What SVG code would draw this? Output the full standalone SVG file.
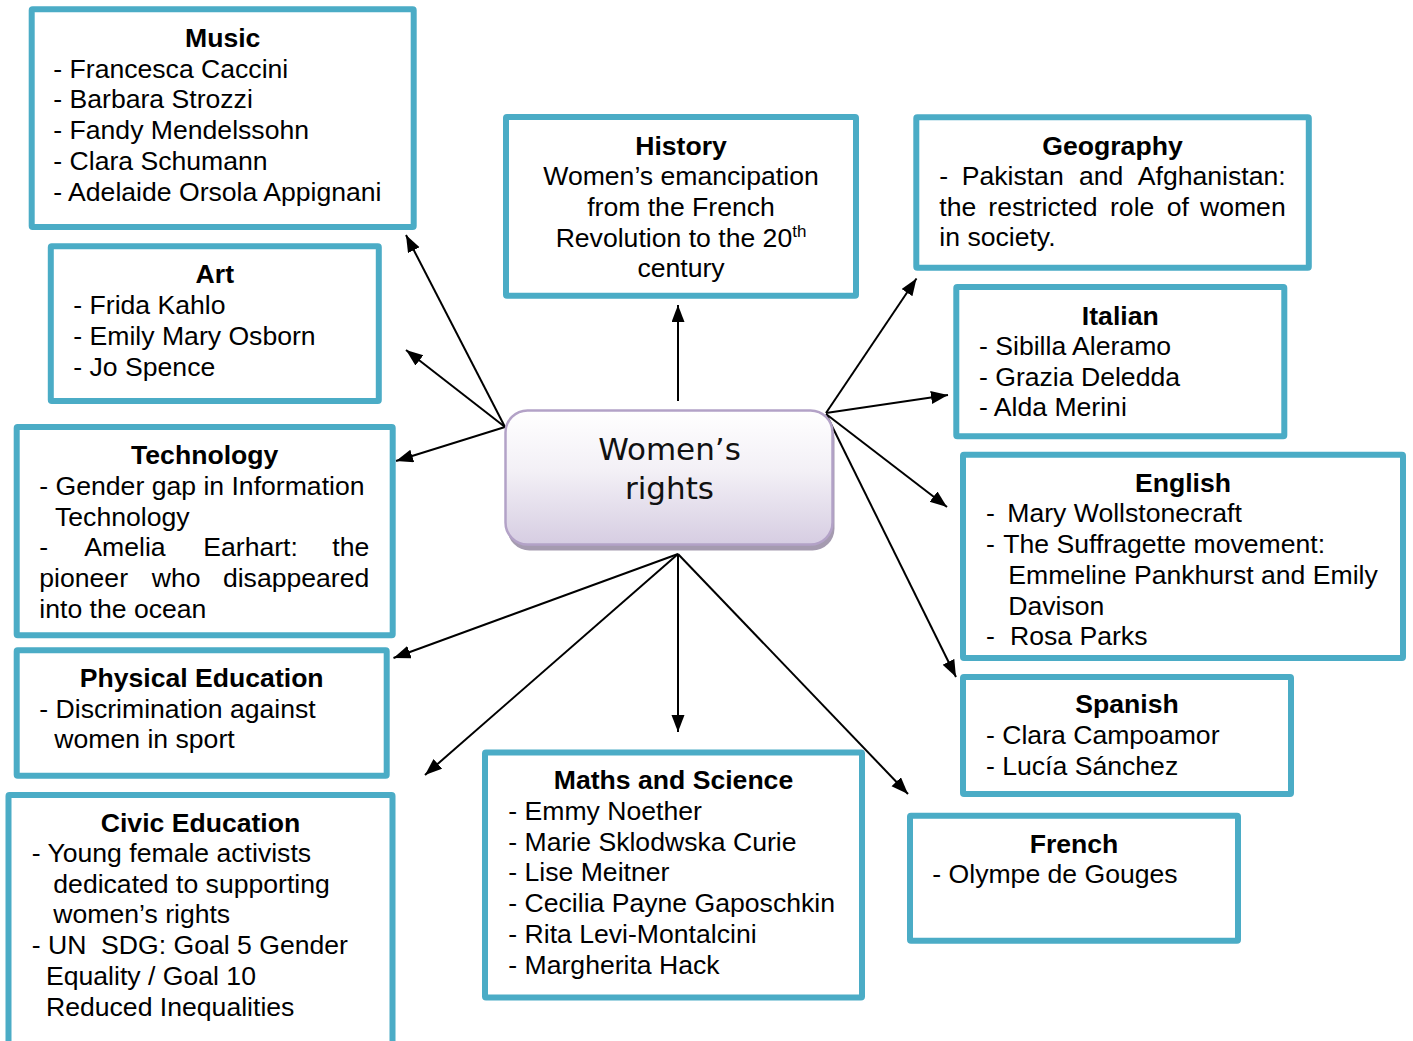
<svg xmlns="http://www.w3.org/2000/svg" width="1413" height="1041" viewBox="0 0 1413 1041">
  <style>
    .box { fill: #ffffff; stroke: #4bacc6; stroke-width: 6; }
    .t { font-family: "Liberation Sans", Arial, sans-serif; font-size: 26.6px; fill: #000000; }
    .h { font-weight: bold; text-anchor: middle; }
    .e { text-anchor: end; }
    .pre { white-space: pre; }
    .conn line { stroke: #000000; stroke-width: 2; marker-end: url(#arrow); }
    .hub { font-family: "DejaVu Sans", Verdana, sans-serif; font-size: 31px; fill: #111111; text-anchor: middle; }
  </style>
  <defs>
    <marker id="arrow" markerUnits="userSpaceOnUse" markerWidth="18" markerHeight="14" refX="17" refY="6.5" orient="auto">
      <path d="M0,0 L17,6.5 L0,13 Z" fill="#000000"/>
    </marker>
    <linearGradient id="hubFill" x1="0" y1="0" x2="0" y2="1">
      <stop offset="0" stop-color="#ffffff"/>
      <stop offset="0.45" stop-color="#f3f0f6"/>
      <stop offset="1" stop-color="#d6cde2"/>
    </linearGradient>
  </defs>

  <!-- connectors from the central topic -->
  <g id="connectors" class="conn">
    <line x1="505" y1="427" x2="406" y2="235"/>
    <line x1="505" y1="427" x2="406" y2="350"/>
    <line x1="505" y1="427" x2="396" y2="461"/>
    <line x1="678" y1="401" x2="678" y2="305"/>
    <line x1="826" y1="413" x2="916.5" y2="278.5"/>
    <line x1="826" y1="413" x2="948" y2="395"/>
    <line x1="826" y1="414" x2="947" y2="507"/>
    <line x1="827" y1="416" x2="956" y2="677"/>
    <line x1="678" y1="554" x2="393.5" y2="658"/>
    <line x1="678" y1="554" x2="425" y2="775"/>
    <line x1="678" y1="554" x2="678" y2="732"/>
    <line x1="678" y1="554" x2="908" y2="794"/>
  </g>

  <!-- central topic -->
  <g id="womens-rights">
    <rect x="507.5" y="416.5" width="327" height="134" rx="22" fill="#a59bb0"/>
    <rect x="505.5" y="410.5" width="327" height="134" rx="22" fill="url(#hubFill)" stroke="#b3a2c7" stroke-width="2.5"/>
    <text class="hub" x="669.5" y="460">Women’s</text>
    <text class="hub" x="669.5" y="498.5">rights</text>
  </g>

  <g id="music">
    <rect class="box" x="31.7" y="9.3" width="382" height="217.7" rx="1"/>
    <text class="t h" x="222.7" y="47">Music</text>
    <text class="t" x="53.3" y="77.7">- Francesca Caccini</text>
    <text class="t" x="53.3" y="108.4">- Barbara Strozzi</text>
    <text class="t" x="53.3" y="139.1">- Fandy Mendelssohn</text>
    <text class="t" x="53.3" y="169.8">- Clara Schumann</text>
    <text class="t" x="53.3" y="200.5">- Adelaide Orsola Appignani</text>
  </g>

  <g id="art">
    <rect class="box" x="50.8" y="246.3" width="328" height="154.7" rx="1"/>
    <text class="t h" x="214.8" y="283.3">Art</text>
    <text class="t" x="73.3" y="314.2">- Frida Kahlo</text>
    <text class="t" x="73.3" y="344.9">- Emily Mary Osborn</text>
    <text class="t" x="73.3" y="375.6">- Jo Spence</text>
  </g>

  <g id="technology">
    <rect class="box" x="16.7" y="427" width="376" height="208.3" rx="1"/>
    <text class="t h" x="204.7" y="464.3">Technology</text>
    <text class="t" x="39.3" y="494.8">- Gender gap in Information</text>
    <text class="t" x="55" y="525.5">Technology</text>
    <text class="t" x="39.3" y="556.2">-</text>
    <text class="t" x="84.3" y="556.2">Amelia</text>
    <text class="t" x="203.3" y="556.2">Earhart:</text>
    <text class="t e" x="369.3" y="556.2">the</text>
    <text class="t" x="39.3" y="586.9">pioneer</text>
    <text class="t" x="151.7" y="586.9">who</text>
    <text class="t e" x="369.3" y="586.9">disappeared</text>
    <text class="t" x="39.3" y="617.6">into the ocean</text>
  </g>

  <g id="physical-education">
    <rect class="box" x="16.7" y="650.3" width="370" height="125.4" rx="1"/>
    <text class="t h" x="201.7" y="686.7">Physical Education</text>
    <text class="t" x="39.3" y="717.7">- Discrimination against</text>
    <text class="t" x="54.3" y="748.4">women in sport</text>
  </g>

  <g id="civic-education">
    <rect class="box" x="8.5" y="795" width="384" height="270" rx="1"/>
    <text class="t h" x="200.5" y="831.7">Civic Education</text>
    <text class="t" x="31.7" y="862">- Young female activists</text>
    <text class="t" x="53.3" y="892.7">dedicated to supporting</text>
    <text class="t" x="53.3" y="923.4">women’s rights</text>
    <text class="t pre" x="31.7" y="954.1" xml:space="preserve">- UN  SDG: Goal 5 Gender</text>
    <text class="t" x="46" y="984.8">Equality / Goal 10</text>
    <text class="t" x="46" y="1015.5">Reduced Inequalities</text>
  </g>

  <g id="history">
    <rect class="box" x="506" y="117" width="350" height="178.7" rx="1"/>
    <text class="t h" x="681" y="155">History</text>
    <text class="t h" x="681" y="185" font-weight="normal" style="font-weight:normal">Women’s emancipation</text>
    <text class="t h" x="681" y="216" style="font-weight:normal">from the French</text>
    <text class="t h" x="681" y="246.7" style="font-weight:normal">Revolution to the 20<tspan font-size="17" dy="-10">th</tspan></text>
    <text class="t h" x="681" y="277" style="font-weight:normal">century</text>
  </g>

  <g id="maths-and-science">
    <rect class="box" x="485" y="752.5" width="377" height="245" rx="1"/>
    <text class="t h" x="673.5" y="789.3">Maths and Science</text>
    <text class="t" x="508.3" y="820">- Emmy Noether</text>
    <text class="t" x="508.3" y="850.7">- Marie Sklodwska Curie</text>
    <text class="t" x="508.3" y="881.4">- Lise Meitner</text>
    <text class="t" x="508.3" y="912.1">- Cecilia Payne Gaposchkin</text>
    <text class="t" x="508.3" y="942.8">- Rita Levi-Montalcini</text>
    <text class="t" x="508.3" y="973.5">- Margherita Hack</text>
  </g>

  <g id="geography">
    <rect class="box" x="916.3" y="117.3" width="392.5" height="150.5" rx="1"/>
    <text class="t h" x="1112.5" y="155">Geography</text>
    <text class="t" x="939.3" y="185">-</text>
    <text class="t" x="961.7" y="185">Pakistan</text>
    <text class="t" x="1079" y="185">and</text>
    <text class="t e" x="1285.7" y="185">Afghanistan:</text>
    <text class="t" x="939.3" y="215.7">the</text>
    <text class="t" x="988.3" y="215.7">restricted</text>
    <text class="t" x="1110" y="215.7">role</text>
    <text class="t" x="1166.7" y="215.7">of</text>
    <text class="t e" x="1285.7" y="215.7">women</text>
    <text class="t" x="939.3" y="246.4">in society.</text>
  </g>

  <g id="italian">
    <rect class="box" x="956.3" y="287" width="328" height="149.3" rx="1"/>
    <text class="t h" x="1120.3" y="325">Italian</text>
    <text class="t" x="979" y="355">- Sibilla Aleramo</text>
    <text class="t" x="979" y="385.7">- Grazia Deledda</text>
    <text class="t" x="979" y="416.4">- Alda Merini</text>
  </g>

  <g id="english">
    <rect class="box" x="963" y="454.7" width="440" height="203.3" rx="1"/>
    <text class="t h" x="1183" y="491.7">English</text>
    <text class="t" x="986" y="522.4">-</text>
    <text class="t" x="1007.3" y="522.4">Mary Wollstonecraft</text>
    <text class="t" x="986" y="553.1">-</text>
    <text class="t" x="1003.3" y="553.1">The Suffragette movement:</text>
    <text class="t" x="1008.3" y="583.8">Emmeline Pankhurst and Emily</text>
    <text class="t" x="1008.3" y="614.5">Davison</text>
    <text class="t" x="986" y="645.2">-</text>
    <text class="t" x="1010" y="645.2">Rosa Parks</text>
  </g>

  <g id="spanish">
    <rect class="box" x="963" y="677" width="328" height="117" rx="1"/>
    <text class="t h" x="1127" y="713.3">Spanish</text>
    <text class="t" x="986" y="744">- Clara Campoamor</text>
    <text class="t" x="986" y="774.7">- Lucía Sánchez</text>
  </g>

  <g id="french">
    <rect class="box" x="910" y="815.7" width="328" height="125" rx="1"/>
    <text class="t h" x="1074" y="852.7">French</text>
    <text class="t" x="932.3" y="883.4">- Olympe de Gouges</text>
  </g>
</svg>
